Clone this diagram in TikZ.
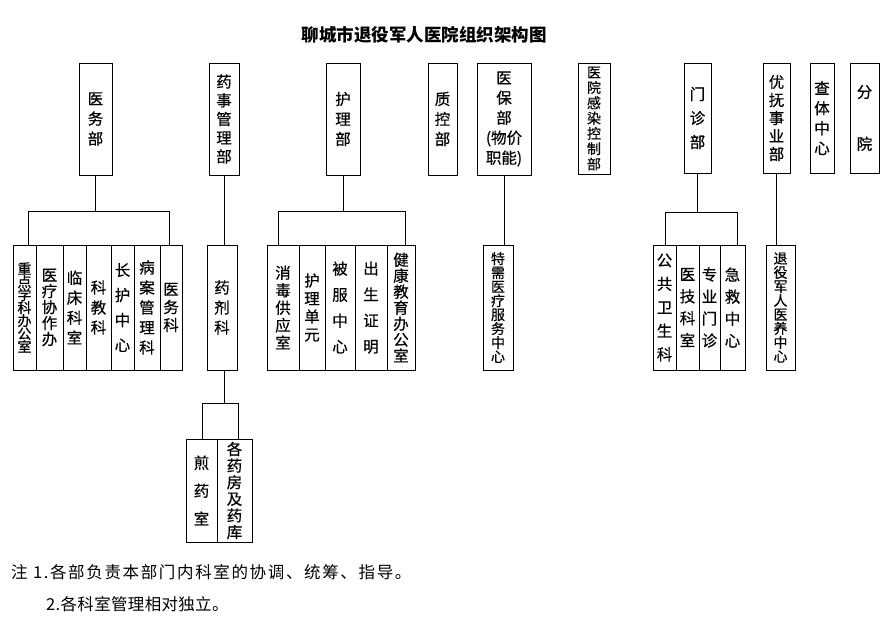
\documentclass[tikz,border=0pt]{standalone}
\usepackage{fontspec}
\newfontfamily\cjk{Noto Sans CJK SC}
\newfontfamily\cjkb[FakeBold=0.5]{Noto Sans CJK SC}
\newfontfamily\cjkn[LetterSpace=10]{Noto Sans CJK SC}
\newfontfamily\cjkm[LetterSpace=2]{Noto Sans CJK SC}
\tikzset{
  box/.style={draw, line width=0.9pt, inner sep=0pt, align=center},
  top/.style={box, minimum height=112},
  sub/.style={box, minimum height=125},
  low/.style={box, minimum height=103},
  ft/.style={font=\cjkb\fontsize{15.5}{#1}\selectfont},
  ftt/.style={font=\cjkb\fontsize{14}{#1}\selectfont},
  ln/.style={line width=0.9pt},
}
\begin{document}
\begin{tikzpicture}[x=1pt,y=-1pt]
\useasboundingbox (0,0) rectangle (890,635);
% title
\node[font=\cjk\bfseries\fontsize{17.5}{20}\selectfont] (title) at (424,35) {聊城市退役军人医院组织架构图};
% top level
\node[top, minimum width=33, ft=20] (p1) at (95.5,119) {医\\务\\部};
\node[top, minimum width=30, ft=18.7] (p2) at (224,119) {药\\事\\管\\理\\部};
\node[top, minimum width=34, ft=20] (p3) at (343,119) {护\\理\\部};
\node[top, minimum width=29, ft=20] (p4) at (442.5,119) {质\\控\\部};
\node[top, minimum width=54, ft=20] (p5) at (504,119) {医\\保\\部\\(物价\\职能)};
\node[top, minimum width=32, minimum height=111, ftt=15.3] (p6) at (594,118.5) {医\\院\\感\\染\\控\\制\\部};
\node[top, minimum width=27, minimum height=110, ft=24] (p7) at (697.5,118) {门\\诊\\部};
\node[top, minimum width=27, minimum height=110, ft=18] (p8) at (776.5,118) {优\\抚\\事\\业\\部};
\node[top, minimum width=24, minimum height=110, ft=20] (p9) at (822,118) {查\\体\\中\\心};
\node[top, minimum width=29, minimum height=110, ft=52] (p10) at (864.5,118) {分\\院};
% 医务部 group
\node[sub, minimum width=23, ftt=13] (a1) at (24.5,307.5) {重\\点\\学\\科\\办\\公\\室};
\node[sub, minimum width=27, ft=16] (a2) at (49.5,307.5) {医\\疗\\协\\作\\办};
\node[sub, minimum width=23, ft=20] (a3) at (74.5,307.5) {临\\床\\科\\室};
\node[sub, minimum width=25, ft=20] (a4) at (98.5,307.5) {科\\教\\科};
\node[sub, minimum width=23, ft=25] (a5) at (122.5,307.5) {长\\护\\中\\心};
\node[sub, minimum width=26, ft=20] (a6) at (147,307.5) {病\\案\\管\\理\\科};
\node[sub, minimum width=22, ft=18] (a7) at (171,307.5) {医\\务\\科};
% 药剂科
\node[sub, minimum width=30, ft=20] (b1) at (222,307.5) {药\\剂\\科};
\node[low, minimum width=31, ft=28] (b2) at (201.5,490.5) {煎\\药\\室};
\node[low, minimum width=35, ft=16.6] (b3) at (234.5,490.5) {各\\药\\房\\及\\药\\库};
% 护理部 group
\node[sub, minimum width=32, ft=17.5] (c1) at (283,307.5) {消\\毒\\供\\应\\室};
\node[sub, minimum width=26, ft=18] (c2) at (312,307.5) {护\\理\\单\\元};
\node[sub, minimum width=30, ft=26] (c3) at (340,307.5) {被\\服\\中\\心};
\node[sub, minimum width=32, ft=26] (c4) at (371,307.5) {出\\生\\证\\明};
\node[sub, minimum width=28, ft=16] (c5) at (401,307.5) {健\\康\\教\\育\\办\\公\\室};
% 医保部
\node[sub, minimum width=30, ftt=14] (d1) at (498,307.5) {特\\需\\医\\疗\\服\\务\\中\\心};
% 门诊部 group
\node[sub, minimum width=23, ft=23.5] (e1) at (664.5,307.5) {公\\共\\卫\\生\\科};
\node[sub, minimum width=23, ft=22] (e2) at (687.5,307.5) {医\\技\\科\\室};
\node[sub, minimum width=21, ft=22] (e3) at (709.5,307.5) {专\\业\\门\\诊};
\node[sub, minimum width=25, ft=22] (e4) at (732.5,307.5) {急\\救\\中\\心};
% 优抚事业部
\node[sub, minimum width=29, ftt=14] (f1) at (780.5,307.5) {退\\役\\军\\人\\医\\养\\中\\心};
% connectors
\coordinate (aL) at (28,211);
\coordinate (aR) at (169,211);
\draw[ln] (p1.south) -- (p1.south |- aL);
\draw[ln] (a1.north -| aL) |- (aR) -- (aR |- a7.north);
\draw[ln] (p2.south) -- (p2.south |- b1.north);
\coordinate (bL) at (202,403);
\coordinate (bR) at (238,403);
\draw[ln] (b1.south -| p2.south) -- (p2.south |- bL);
\draw[ln] (b2.north -| bL) |- (bR) -- (bR |- b3.north);
\coordinate (cL) at (278,211);
\coordinate (cR) at (405,211);
\draw[ln] (p3.south) -- (p3.south |- cL);
\draw[ln] (c1.north -| cL) |- (cR) -- (cR |- c5.north);
\draw[ln] (p5.south) -- (p5.south |- d1.north);
\coordinate (eL) at (665,212);
\coordinate (eR) at (737,212);
\draw[ln] (p7.south) -- (p7.south |- eL);
\draw[ln] (e1.north -| eL) |- (eR) -- (eR |- e4.north);
\draw[ln] (p8.south) -- (p8.south |- f1.north);
% notes
\node[anchor=west, font=\cjkn\fontsize{16.5}{20}\selectfont, inner sep=0pt] (n1) at (11,572) {注\ 1.各部负责本部门内科室的协调、统筹、指导。};
\node[anchor=west, font=\cjkm\fontsize{16.5}{20}\selectfont, inner sep=0pt] (n2) at (46,604) {2.各科室管理相对独立。};
\end{tikzpicture}
\end{document}
